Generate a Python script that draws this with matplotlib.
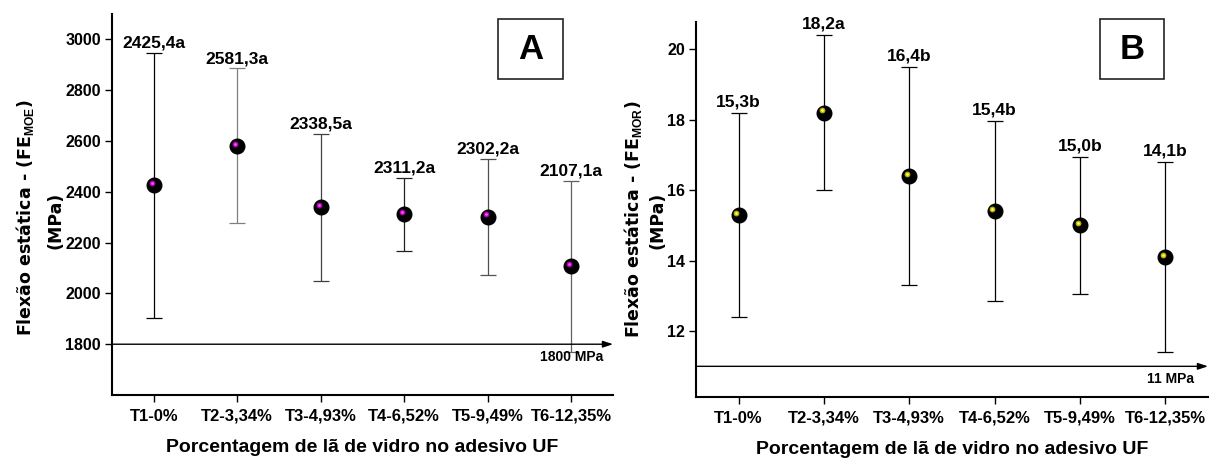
"""Static bending (MOE / MOR) of UF panels with glass wool in the adhesive.

Two panels side by side: mean +/- standard deviation for each treatment,
Tukey group letter above each bar, and the minimum value required by the
standard drawn as an arrow along the bottom of the axes.

Saved to ``out.png``.
"""
import matplotlib.pyplot as plt
from matplotlib.patches import Rectangle
from matplotlib.transforms import ScaledTranslation

plt.rcParams['font.family'] = ['Liberation Sans', 'DejaVu Sans']
plt.rcParams['font.weight'] = 'bold'
plt.rcParams['axes.labelweight'] = 'bold'
plt.rcParams['mathtext.fontset'] = 'custom'
plt.rcParams['mathtext.rm'] = 'Liberation Sans'

treatments = ["T1-0%", "T2-3,34%", "T3-4,93%", "T4-6,52%", "T5-9,49%", "T6-12,35%"]
x_title = "Porcentagem de lã de vidro no adesivo UF"
unit = "(MPa)"

# modulus of elasticity (MPa)
moe_mean = [2425.4, 2581.3, 2338.5, 2311.2, 2302.2, 2107.1]
moe_sd = [522, 305, 291, 143, 228, 336]
moe_group = ["a", "a", "a", "a", "a", "a"]
moe_limit = 1800

# modulus of rupture (MPa)
mor_mean = [15.3, 18.2, 16.4, 15.4, 15.0, 14.1]
mor_sd = [2.9, 2.2, 3.1, 2.55, 1.95, 2.7]
mor_group = ["b", "a", "b", "b", "b", "b"]
mor_limit = 11


def fmt(v):
    return f"{v:.1f}".replace(".", ",")


def panel(fig, ax, mean, sd, group, limit, ylim, yticks, ylabel,
          bar_colors, glow, letter, label_pad, limit_dx, ylabel_pos, unit_pos):
    xs = list(range(1, len(mean) + 1))

    for xi, m, s, c in zip(xs, mean, sd, bar_colors):
        ax.errorbar([xi], [m], yerr=[s], fmt="none", ecolor=c,
                    elinewidth=0.9, capsize=5.5, capthick=0.9, zorder=2)

    # black "sphere" with a coloured highlight towards the upper left
    ax.plot(xs, mean, "o", ms=10.5, mfc="black", mec="black", zorder=3)
    shift = ax.transData + ScaledTranslation(-0.022, 0.022, fig.dpi_scale_trans)
    ax.plot(xs, mean, "o", ms=4.2, mfc=glow[0], mec="none", zorder=4,
            transform=shift)
    ax.plot(xs, mean, "o", ms=2.0, mfc=glow[1], mec="none", zorder=5,
            transform=shift)

    for xi, m, s, g in zip(xs, mean, sd, group):
        ax.annotate(fmt(m) + g, xy=(xi, m + s), xytext=(0, label_pad),
                    textcoords="offset points", ha="center", va="bottom",
                    fontsize=12.5)

    ax.set_xlim(0.5, len(mean) + 0.5)
    ax.set_ylim(*ylim)
    ax.set_xticks(xs)
    ax.set_xticklabels(treatments)
    ax.set_yticks(yticks)

    # minimum required by the standard
    x0, x1 = ax.get_xlim()
    ax.annotate("", xy=(x1, limit), xytext=(x0, limit),
                arrowprops=dict(arrowstyle="-|>,head_length=0.6,head_width=0.2",
                                color="black", lw=1, shrinkA=0, shrinkB=0,
                                mutation_scale=10),
                annotation_clip=False)
    ax.annotate(f"{limit} MPa", xy=(x1, limit), xytext=(limit_dx, -4),
                textcoords="offset points", ha="right", va="top", fontsize=10)

    for side in ("top", "right"):
        ax.spines[side].set_visible(False)
    for side in ("left", "bottom"):
        ax.spines[side].set_linewidth(1.5)
    ax.tick_params(axis="both", direction="out", length=5, width=1)
    ax.tick_params(axis="y", labelsize=11.5, pad=3)
    ax.tick_params(axis="x", labelsize=12, pad=5)

    ax.set_xlabel(x_title, fontsize=14, labelpad=11)

    # two-line y title: quantity, then unit on its own line
    ax.set_ylabel(ylabel, family="DejaVu Sans", fontsize=12.5)
    ax.yaxis.label.set_verticalalignment("center")
    ax.yaxis.set_label_coords(*ylabel_pos)
    ax.text(unit_pos[0], unit_pos[1], unit, transform=ax.transAxes,
            rotation=90, ha="center", va="center", family="DejaVu Sans",
            fontsize=12.5)

    bx, by, bw, bh = letter[1]
    ax.add_patch(Rectangle((bx, by), bw, bh, transform=ax.transAxes,
                           fill=False, ec="#222222", lw=1.2, clip_on=False))
    ax.text(bx + bw / 2, by + bh / 2, letter[0], transform=ax.transAxes,
            ha="center", va="center", fontsize=25)


def main():
    fig = plt.figure(figsize=(12.11, 4.59), dpi=100)
    ax_a = fig.add_axes([0.0925, 0.1394, 0.4137, 0.8301])
    ax_b = fig.add_axes([0.5747, 0.1351, 0.4228, 0.8169])

    panel(fig, ax_a, moe_mean, moe_sd, moe_group, moe_limit,
          (1600, 3100), [1800, 2000, 2200, 2400, 2600, 2800, 3000],
          "Flexão estática - (FE$_{\\mathrm{MOE}}$)",
          ["#000000", "#808080", "#404040", "#202020", "#505050", "#606060"],
          ("#b000b0", "#ff50ff"), ("A", (0.770, 0.829, 0.130, 0.157)),
          label_pad=1.5, limit_dx=-7,
          ylabel_pos=(-0.174, 0.465), unit_pos=(-0.113, 0.459))

    panel(fig, ax_b, mor_mean, mor_sd, mor_group, mor_limit,
          (10.13, 20.77), [12, 14, 16, 18, 20],
          "Flexão estática - (FE$_{\\mathrm{MOR}}$)",
          ["#000000"] * 6,
          ("#b8b000", "#ffff60"), ("B", (0.789, 0.848, 0.125, 0.160)),
          label_pad=2.5, limit_dx=-10,
          ylabel_pos=(-0.122, 0.475), unit_pos=(-0.075, 0.472))

    fig.savefig("out.png", dpi=100)


if __name__ == "__main__":
    main()
